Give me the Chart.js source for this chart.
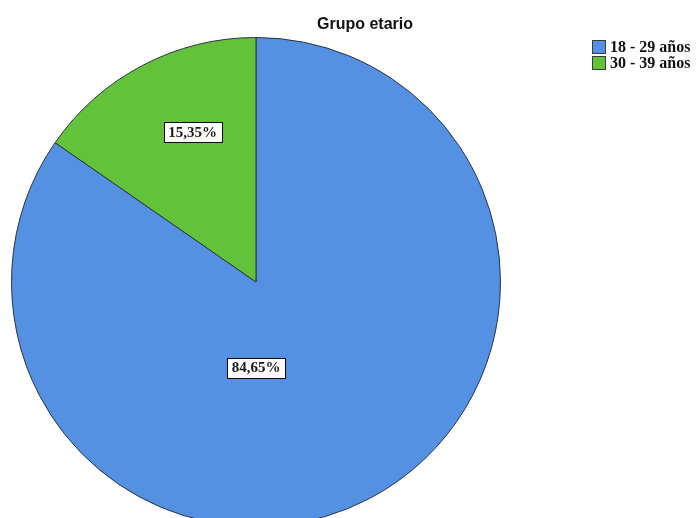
<!DOCTYPE html>
<html>
<head>
<meta charset="utf-8">
<title>Grupo etario</title>
<script src="https://cdn.jsdelivr.net/npm/chart.js@4/dist/chart.umd.min.js"></script>
<style>
  html, body { margin: 0; padding: 0; background: #ffffff; overflow: hidden; }
  #wrap { width: 697px; height: 518px; overflow: hidden; position: relative; }
  canvas { display: block; }
</style>
</head>
<body>
<div id="wrap"><canvas id="pie" width="697" height="540"></canvas></div>
<script>
// Age groups and their share of respondents (%)
const chartTitle = 'Grupo etario';
const categories = ['18 - 29 años', '30 - 39 años'];
const percentages = [84.65, 15.35];
const sliceColors = ['#5591e2', '#62c23a'];

const fmtPct = v => v.toFixed(2).replace('.', ',') + '%';

// Boxed percentage labels; each box sits at an angle (deg, clockwise from top)
// and a fraction of the radius from the centre.
const boxedLabels = {
  id: 'boxedLabels',
  afterDatasetsDraw(chart, args, opts) {
    const ctx = chart.ctx;
    const meta = chart.getDatasetMeta(0);
    ctx.save();
    ctx.font = opts.font;
    ctx.textAlign = 'center';
    ctx.textBaseline = 'middle';
    meta.data.forEach((arc, i) => {
      const p = arc.getProps(['x', 'y', 'outerRadius']);
      const place = opts.placement[i];
      const a = (place.angle - 90) * Math.PI / 180;
      const cx = p.x + Math.cos(a) * p.outerRadius * place.r;
      const cy = p.y + Math.sin(a) * p.outerRadius * place.r;
      const txt = fmtPct(chart.data.datasets[0].data[i]);
      const w = Math.round(ctx.measureText(txt).width + 9);
      const h = 20;
      const x0 = Math.round(cx - w / 2) + 0.5;
      const y0 = Math.round(cy - h / 2) + 0.5;
      ctx.fillStyle = '#ffffff';
      ctx.fillRect(x0, y0, w, h);
      ctx.strokeStyle = '#000000';
      ctx.lineWidth = 1;
      ctx.strokeRect(x0, y0, w, h);
      ctx.fillStyle = '#1a1a1a';
      ctx.fillText(txt, cx, cy + 1);
    });
    ctx.restore();
  }
};

// Title and legend drawn at fixed spots so the pie keeps its own area
const headerAndLegend = {
  id: 'headerAndLegend',
  afterDraw(chart, args, opts) {
    const ctx = chart.ctx;
    ctx.save();
    ctx.fillStyle = '#111111';
    ctx.font = opts.titleFont;
    ctx.textAlign = 'center';
    ctx.textBaseline = 'alphabetic';
    ctx.fillText(chartTitle, opts.titleX, opts.titleY);

    ctx.font = opts.legendFont;
    ctx.textAlign = 'left';
    ctx.textBaseline = 'middle';
    chart.data.labels.forEach((lab, i) => {
      const y = opts.legendY + i * opts.legendStep;
      ctx.fillStyle = chart.data.datasets[0].backgroundColor[i];
      ctx.fillRect(opts.legendX, y - 7, 14, 14);
      ctx.strokeStyle = '#3a3a3a';
      ctx.lineWidth = 1;
      ctx.strokeRect(opts.legendX + 0.5, y - 6.5, 13, 13);
      ctx.fillStyle = '#111111';
      ctx.fillText(lab, opts.legendX + 18, y + 1);
    });
    ctx.restore();
  }
};

new Chart(document.getElementById('pie'), {
  type: 'pie',
  data: {
    labels: categories,
    datasets: [{
      data: percentages,
      backgroundColor: sliceColors,
      borderColor: '#2b3440',
      borderWidth: 1
    }]
  },
  options: {
    responsive: false,
    animation: false,
    rotation: 0,
    layout: { padding: { left: 11, top: 37, right: 196, bottom: 13 } },
    plugins: {
      legend: { display: false },
      title: { display: false },
      tooltip: { enabled: false },
      boxedLabels: {
        font: 'bold 15px "Liberation Serif", "DejaVu Serif", serif',
        placement: [{ angle: 180, r: 0.35 }, { angle: -22.9, r: 0.667 }]
      },
      headerAndLegend: {
        titleFont: 'bold 16px "Liberation Sans", Arial, sans-serif',
        titleX: 365, titleY: 29,
        legendFont: 'bold 16px "Liberation Serif", "DejaVu Serif", serif',
        legendX: 592, legendY: 47, legendStep: 16
      }
    }
  },
  plugins: [boxedLabels, headerAndLegend]
});
</script>
</body>
</html>
